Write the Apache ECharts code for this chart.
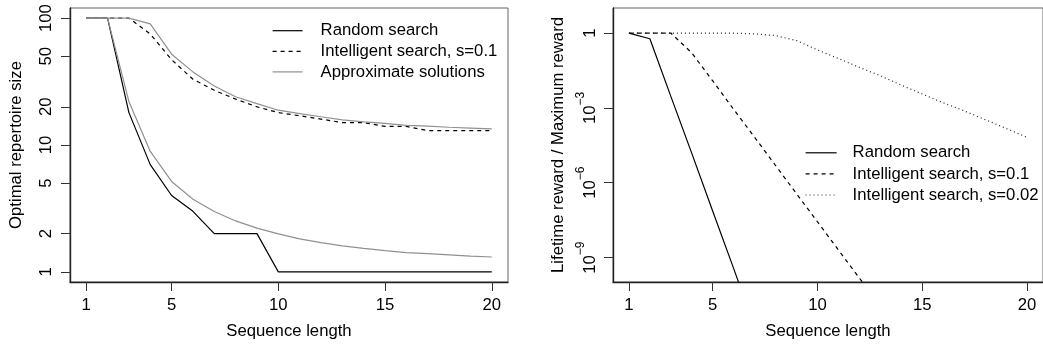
<!DOCTYPE html>
<html><head><meta charset="utf-8">
<script src="https://cdn.jsdelivr.net/npm/echarts@6/dist/echarts.min.js"></script>
<style>html,body{margin:0;padding:0;background:#fff}#c{width:1043px;height:348px}</style>
</head><body><div id="c"></div>
<script>
// ---- data ----
const seqLength = [1,2,3,4,5,6,7,8,9,10,11,12,13,14,15,16,17,18,19,20];
const xTicks = [1,5,10,15,20];
const leftYTicks = [1,2,5,10,20,50,100];
const rightYTicks = [1e-9,1e-6,1e-3,1];

// left panel: optimal repertoire size
const leftRandom = [100,100,18,7,4,3,2,2,2,1,1,1,1,1,1,1,1,1,1,1];
const leftIntelligent = [100,100,100,75,47,33,27,23,20,18,17,16,15,15,14,14,13,13,13,13];
const leftApproxUpper = [100,100,100,90,52,37.7,29.2,24,21.2,18.8,17.7,16.7,15.8,15.2,14.8,14.3,14.1,13.8,13.6,13.4];
const leftApproxLower = [100,100,22,8.9,5.16,3.74,2.99,2.52,2.21,1.99,1.82,1.70,1.60,1.53,1.47,1.42,1.39,1.36,1.33,1.31];

// right panel: lifetime reward / maximum reward
const rightRandom = [1,0.59,2.9e-3,1.5e-5,7.2e-8,3.6e-10,1.6e-12];
const rightIntel01 = [1,1,1,0.16,1.2e-2,8.7e-4,6.6e-5,4.9e-6,3.6e-7,2.7e-8,2.0e-9,1.5e-10,1.1e-11];
const rightIntel002 = [1,1,1,1,1,0.99,0.93,0.79,0.5,0.21,0.095,0.042,0.0195,8.1e-3,3.6e-3,1.6e-3,7.6e-4,3.4e-4,1.5e-4,6.6e-5];

const names = {
  random: 'Random search',
  intel01: 'Intelligent search, s=0.1',
  intel002: 'Intelligent search, s=0.02',
  approx: 'Approximate solutions'
};

const pairs = (vals) => vals.map((v, i) => [seqLength[i], v]);
const FONT = 'Liberation Sans, Arial, Helvetica, sans-serif';
const FS = 16.7;

function xAxisCfg(gridIndex) {
  return {
    gridIndex, type: 'value', min: 0.24, max: 20.76,
    name: 'Sequence length', nameLocation: 'middle', nameGap: 41,
    nameTextStyle: {fontSize: FS, fontFamily: FONT, color: '#000'},
    axisLine: {show: true, lineStyle: {color: '#222', width: 1.4}},
    axisTick: {show: true, length: 9, customValues: xTicks, lineStyle: {color: '#333', width: 1}},
    axisLabel: {customValues: xTicks, margin: 15, fontSize: FS, fontFamily: FONT, color: '#000'},
    splitLine: {show: false}
  };
}

const option = {
  animation: false,
  backgroundColor: '#fff',
  grid: [
    {left: 70, top: 8, width: 438, height: 274, show: true, borderColor: '#666', borderWidth: 1, backgroundColor: 'transparent'},
    {left: 613, top: 8, width: 438, height: 274, show: true, borderColor: '#666', borderWidth: 1, backgroundColor: 'transparent'}
  ],
  xAxis: [xAxisCfg(0), xAxisCfg(1)],
  yAxis: [
    {
      gridIndex: 0, type: 'log', logBase: 10, min: 0.8318, max: 120.2,
      name: 'Optimal repertoire size', nameLocation: 'middle', nameGap: 45,
      nameTextStyle: {fontSize: FS, fontFamily: FONT, color: '#000'},
      axisLine: {show: true, lineStyle: {color: '#222', width: 1.4}},
      axisTick: {show: true, length: 9, customValues: leftYTicks, lineStyle: {color: '#333'}},
      axisLabel: {customValues: leftYTicks, rotate: 90, margin: 15, fontSize: FS, fontFamily: FONT, color: '#000'},
      splitLine: {show: false}, minorTick: {show: false}
    },
    {
      gridIndex: 1, type: 'log', logBase: 10, min: 1.05e-10, max: 10.1,
      name: 'Lifetime reward / Maximum reward', nameLocation: 'middle', nameGap: 46,
      nameTextStyle: {fontSize: FS, fontFamily: FONT, color: '#000'},
      axisLine: {show: true, lineStyle: {color: '#222', width: 1.4}},
      axisTick: {show: true, length: 9, customValues: rightYTicks, lineStyle: {color: '#333'}},
      axisLabel: {
        customValues: rightYTicks, rotate: 90, margin: 14, fontSize: FS, fontFamily: FONT, color: '#000',
        formatter: (v) => {
          const e = Math.round(Math.log10(v));
          if (e === 0) return '1';
          return '{b|10}{s|\u2212' + Math.abs(e) + '}';
        },
        rich: {
          b: {fontSize: FS, fontFamily: FONT, color: '#000', lineHeight: 24, verticalAlign: 'bottom'},
          s: {fontSize: 12, fontFamily: FONT, color: '#000', lineHeight: 24, verticalAlign: 'top'}
        }
      },
      splitLine: {show: false}, minorTick: {show: false}
    }
  ],
  legend: [
    {
      left: 272, top: 22.2, padding: 0, orient: 'vertical', itemWidth: 30, itemHeight: 14, itemGap: 3.6,
      data: [names.random, names.intel01, names.approx],
      itemStyle: {opacity: 0},
      lineStyle: {width: 1.2},
      textStyle: {fontSize: FS, fontFamily: FONT, color: '#000', padding: [0, 0, 0, 13]},
      selectedMode: false
    },
    {
      left: 805, top: 144.3, padding: 0, orient: 'vertical', itemWidth: 31, itemHeight: 14, itemGap: 4.1,
      data: [names.random, names.intel01, names.intel002],
      itemStyle: {opacity: 0},
      lineStyle: {width: 1.2},
      textStyle: {fontSize: FS, fontFamily: FONT, color: '#000', padding: [0, 0, 0, 11]},
      selectedMode: false
    }
  ],
  series: [
    {name: names.random, type: 'line', xAxisIndex: 0, yAxisIndex: 0, data: pairs(leftRandom), symbol: 'none',
     lineStyle: {color: '#000', width: 1.2, type: 'solid'}, itemStyle: {color: '#000'}, clip: true},
    {name: names.intel01, type: 'line', xAxisIndex: 0, yAxisIndex: 0, data: pairs(leftIntelligent), symbol: 'none',
     lineStyle: {color: '#000', width: 1.2, type: [4, 4]}, itemStyle: {color: '#000'}, clip: true},
    {name: names.approx, type: 'line', xAxisIndex: 0, yAxisIndex: 0, data: pairs(leftApproxUpper), symbol: 'none',
     lineStyle: {color: '#909090', width: 1.2, type: 'solid'}, itemStyle: {color: '#909090'}, clip: true},
    {name: names.approx, type: 'line', xAxisIndex: 0, yAxisIndex: 0, data: pairs(leftApproxLower), symbol: 'none',
     lineStyle: {color: '#909090', width: 1.2, type: 'solid'}, itemStyle: {color: '#909090'}, clip: true},

    {name: names.random, type: 'line', xAxisIndex: 1, yAxisIndex: 1, data: pairs(rightRandom), symbol: 'none',
     lineStyle: {color: '#000', width: 1.2, type: 'solid'}, itemStyle: {color: '#000'}, clip: true},
    {name: names.intel01, type: 'line', xAxisIndex: 1, yAxisIndex: 1, data: pairs(rightIntel01), symbol: 'none',
     lineStyle: {color: '#000', width: 1.2, type: [4, 4]}, itemStyle: {color: '#000'}, clip: true},
    {name: names.intel002, type: 'line', xAxisIndex: 1, yAxisIndex: 1, data: pairs(rightIntel002), symbol: 'none',
     lineStyle: {color: '#222', width: 1.2, type: [1, 3]}, itemStyle: {color: '#222'}, clip: true}
  ]
};

const chart = echarts.init(document.getElementById('c'), null, {renderer: 'canvas'});
chart.setOption(option);
</script>
</body></html>
